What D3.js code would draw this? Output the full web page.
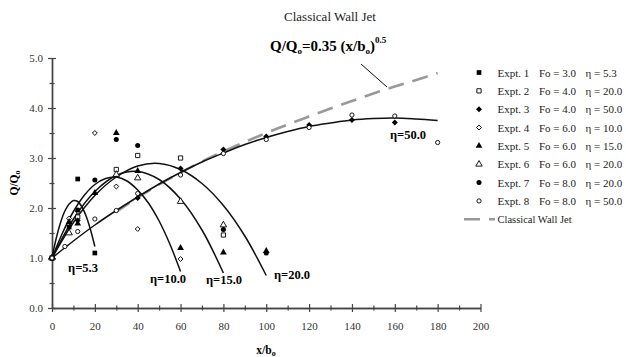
<!DOCTYPE html>
<html>
<head>
<meta charset="utf-8">
<script src="https://cdn.jsdelivr.net/npm/d3@7"></script>
<style>
  body { margin: 0; background: #fff; }
  svg { display: block; font-family: "Liberation Serif", "Times New Roman", serif; }
</style>
</head>
<body>
<svg id="chart" width="626" height="357"></svg>
<script>
const expt1 = [[0, 1.0], [8, 1.62], [12, 2.58], [20, 1.1]];
const expt2 = [[0, 1.0], [12, 1.82], [30, 2.77], [40, 3.05], [60, 3.0], [80, 1.46]];
const expt3 = [[0, 1.0], [12, 1.75], [40, 2.2], [60, 2.79], [80, 3.17], [100, 3.43], [120, 3.66], [140, 3.76], [160, 3.71]];
const expt4 = [[0, 1.0], [8, 1.79], [12, 1.93], [20, 3.5], [30, 2.43], [40, 1.58], [60, 0.98]];
const expt5 = [[0, 1.0], [8, 1.72], [12, 1.69], [20, 2.3], [30, 3.5], [40, 2.74], [60, 1.2], [80, 1.11], [100, 1.14]];
const expt6 = [[0, 1.0], [8, 1.5], [30, 2.67], [40, 2.6], [60, 2.13], [80, 1.66]];
const expt7 = [[0, 1.0], [12, 1.96], [20, 2.56], [30, 3.37], [40, 3.25], [80, 1.57], [100, 1.1]];
const expt8 = [[0, 1.0], [6, 1.23], [12, 1.53], [20, 1.78], [30, 1.95], [40, 2.29], [60, 2.66], [80, 3.09], [100, 3.37], [120, 3.61], [140, 3.86], [160, 3.84], [180, 3.31]];

// fitted curves
const curve53 = [[0, 1.0], [2, 1.4], [4, 1.71], [6, 1.94], [8, 2.08], [10, 2.15], [12, 2.13], [14, 2.02], [16, 1.83], [18, 1.56], [20, 1.23]];
const curve10 = [[0, 1.0], [5, 1.51], [10, 1.93], [15, 2.25], [20, 2.47], [25, 2.59], [30, 2.62], [35, 2.54], [40, 2.36], [45, 2.1], [50, 1.74], [55, 1.28], [60, 0.73]];
const curve15 = [[0, 1.0], [10, 1.78], [20, 2.33], [30, 2.65], [40, 2.73], [50, 2.57], [60, 2.18], [70, 1.56], [80, 0.7]];
const curve20 = [[0, 1.0], [10, 1.71], [20, 2.25], [30, 2.62], [40, 2.84], [50, 2.89], [60, 2.77], [70, 2.49], [80, 2.05], [90, 1.44], [100, 0.65]];
const curve50 = [[0, 1.0], [10, 1.34], [20, 1.66], [30, 1.95], [40, 2.22], [50, 2.48], [60, 2.71], [70, 2.92], [80, 3.1], [90, 3.27], [100, 3.41], [110, 3.53], [120, 3.63], [130, 3.7], [140, 3.76], [150, 3.79], [160, 3.8], [170, 3.78], [180, 3.75]];
const classical = [[30, 1.92], [40, 2.21], [50, 2.47], [60, 2.71], [70, 2.93], [80, 3.13], [90, 3.32], [100, 3.5], [110, 3.67], [120, 3.83], [130, 3.99], [140, 4.14], [150, 4.29], [160, 4.43], [170, 4.56], [180, 4.7]];

const exptNames = ["Expt. 1", "Expt. 2", "Expt. 3", "Expt. 4", "Expt. 5", "Expt. 6", "Expt. 7", "Expt. 8"];
const foValues = ["3.0", "4.0", "4.0", "6.0", "6.0", "6.0", "8.0", "8.0"];
const etaValues = ["5.3", "20.0", "50.0", "10.0", "15.0", "20.0", "20.0", "50.0"];
const curveLabels = ["η=5.3", "η=10.0", "η=15.0", "η=20.0", "η=50.0"];

const xTicks = d3.range(0, 201, 20);
const yTicks = [0, 1, 2, 3, 4, 5];

const svg = d3.select("#chart");

const x = d3.scaleLinear().domain([0, 200]).range([52, 480.5]);
const y = d3.scaleLinear().domain([0, 5]).range([308, 58]);

// marker styles per experiment (diamonds are squares turned 45deg)
const series = [
  { data: expt1, sym: d3.symbolSquare, size: 22, rot: 0, open: false },
  { data: expt2, sym: d3.symbolSquare, size: 18, rot: 0, open: true },
  { data: expt3, sym: d3.symbolSquare, size: 18, rot: 45, open: false },
  { data: expt4, sym: d3.symbolSquare, size: 12, rot: 45, open: true },
  { data: expt5, sym: d3.symbolTriangle, size: 20, rot: 0, open: false },
  { data: expt6, sym: d3.symbolTriangle, size: 18, rot: 0, open: true },
  { data: expt7, sym: d3.symbolCircle, size: 20, rot: 0, open: false },
  { data: expt8, sym: d3.symbolCircle, size: 14, rot: 0, open: true }
];

// axes
const axisColor = "#444";
const xAxis = svg.append("g").attr("transform", `translate(0,${y(0)})`)
  .call(d3.axisBottom(x).tickValues(xTicks).tickSize(0).tickPadding(14).tickFormat(d3.format("d")));
const xMinor = svg.append("g").attr("transform", `translate(0,${y(0)})`)
  .call(d3.axisBottom(x).tickValues(d3.range(10, 200, 20)).tickSize(0).tickFormat(""));
const yAxis = svg.append("g").attr("transform", `translate(${x(0)},0)`)
  .call(d3.axisLeft(y).tickValues(yTicks).tickSize(0).tickPadding(9).tickFormat(d3.format(".1f")));
const yMinor = svg.append("g").attr("transform", `translate(${x(0)},0)`)
  .call(d3.axisLeft(y).tickValues([0.5, 1.5, 2.5, 3.5, 4.5]).tickSize(0).tickFormat(""));

xAxis.selectAll(".tick line").attr("y1", -4).attr("y2", 4);
xMinor.selectAll(".tick line").attr("y1", -2.5).attr("y2", 2.5);
yAxis.selectAll(".tick line").attr("x1", -4).attr("x2", 4);
yMinor.selectAll(".tick line").attr("x1", -2.5).attr("x2", 2.5);

svg.selectAll(".domain").attr("stroke", axisColor).attr("stroke-width", 1.4);
svg.selectAll(".tick line").attr("stroke", axisColor).attr("stroke-width", 1.2);
svg.selectAll(".tick text")
  .attr("font-family", "Liberation Serif").attr("font-size", 11).attr("fill", "#333");

// curves
const line = d3.line().x(d => x(d[0])).y(d => y(d[1])).curve(d3.curveCatmullRom);

svg.append("path").datum(classical)
  .attr("d", line)
  .attr("fill", "none").attr("stroke", "#999").attr("stroke-width", 2.6)
  .attr("stroke-dasharray", "16,9");

[curve53, curve10, curve15, curve20, curve50].forEach(c => {
  svg.append("path").datum(c)
    .attr("d", line)
    .attr("fill", "none").attr("stroke", "#111").attr("stroke-width", 1.5);
});

// markers
series.forEach(s => {
  svg.append("g").selectAll("path")
    .data(s.data)
    .enter().append("path")
      .attr("transform", d => `translate(${x(d[0])},${y(d[1])}) rotate(${s.rot})`)
      .attr("d", d3.symbol().type(s.sym).size(s.size))
      .attr("fill", s.open ? "#fff" : "#000")
      .attr("stroke", "#000").attr("stroke-width", s.open ? 0.9 : 0);
});

// curve labels
const labelPos = [[83, 272], [168, 283], [224, 284], [292, 279], [408, 139]];
svg.append("g").selectAll("text")
  .data(curveLabels)
  .enter().append("text")
    .attr("x", (d, i) => labelPos[i][0])
    .attr("y", (d, i) => labelPos[i][1])
    .attr("text-anchor", "middle")
    .attr("font-weight", "bold").attr("font-size", 12.5)
    .text(d => d);

// title and formula
svg.append("text").attr("x", 330).attr("y", 21)
  .attr("text-anchor", "middle").attr("font-size", 13).attr("fill", "#222")
  .text("Classical Wall Jet");

const eq = svg.append("text").attr("x", 270).attr("y", 51)
  .attr("font-weight", "bold").attr("font-size", 15);
eq.append("tspan").text("Q/Q");
eq.append("tspan").attr("font-size", 9).attr("dy", 3).text("o");
eq.append("tspan").attr("dy", -3).text("=0.35 (x/b");
eq.append("tspan").attr("font-size", 9).attr("dy", 3).text("o");
eq.append("tspan").attr("dy", -3).text(")");
eq.append("tspan").attr("font-size", 9).attr("dy", -8).text("0.5");

svg.append("line")
  .attr("x1", 361).attr("y1", 64).attr("x2", 387).attr("y2", 87)
  .attr("stroke", "#111").attr("stroke-width", 1);

// axis titles
const xt = svg.append("text").attr("x", 266).attr("y", 354)
  .attr("text-anchor", "middle").attr("font-weight", "bold").attr("font-size", 11.5);
xt.append("tspan").text("x/b");
xt.append("tspan").attr("font-size", 8).attr("dy", 2).text("o");

const yt = svg.append("text")
  .attr("transform", `translate(18,${y(2.5)}) rotate(-90)`)
  .attr("text-anchor", "middle").attr("font-weight", "bold").attr("font-size", 11.5);
yt.append("tspan").text("Q/Q");
yt.append("tspan").attr("font-size", 8).attr("dy", 2).text("o");

// legend
const legY = d3.range(8).map(i => 72.5 + i * 18.35);
const leg = svg.append("g");
series.forEach((s, i) => {
  leg.append("path")
    .attr("transform", `translate(479,${legY[i]}) rotate(${s.rot})`)
    .attr("d", d3.symbol().type(s.sym).size(s.size))
    .attr("fill", s.open ? "#fff" : "#000")
    .attr("stroke", "#000").attr("stroke-width", s.open ? 0.9 : 0);
  const t = leg.append("text").attr("y", legY[i] + 4).attr("font-size", 11).attr("fill", "#222");
  t.append("tspan").attr("x", 497.5).text(exptNames[i]);
  t.append("tspan").attr("x", 539).text("Fo = " + foValues[i]);
  t.append("tspan").attr("x", 585.5).text("η = " + etaValues[i]);
});
const cwY = 72.5 + 8 * 18.35;
leg.append("line")
  .attr("x1", 464).attr("x2", 495).attr("y1", cwY).attr("y2", cwY)
  .attr("stroke", "#999").attr("stroke-width", 2.6).attr("stroke-dasharray", "16,9");
leg.append("text").attr("x", 497.5).attr("y", cwY + 3.5)
  .attr("font-size", 10.5).attr("fill", "#222").text("Classical Wall Jet");
</script>
</body>
</html>
